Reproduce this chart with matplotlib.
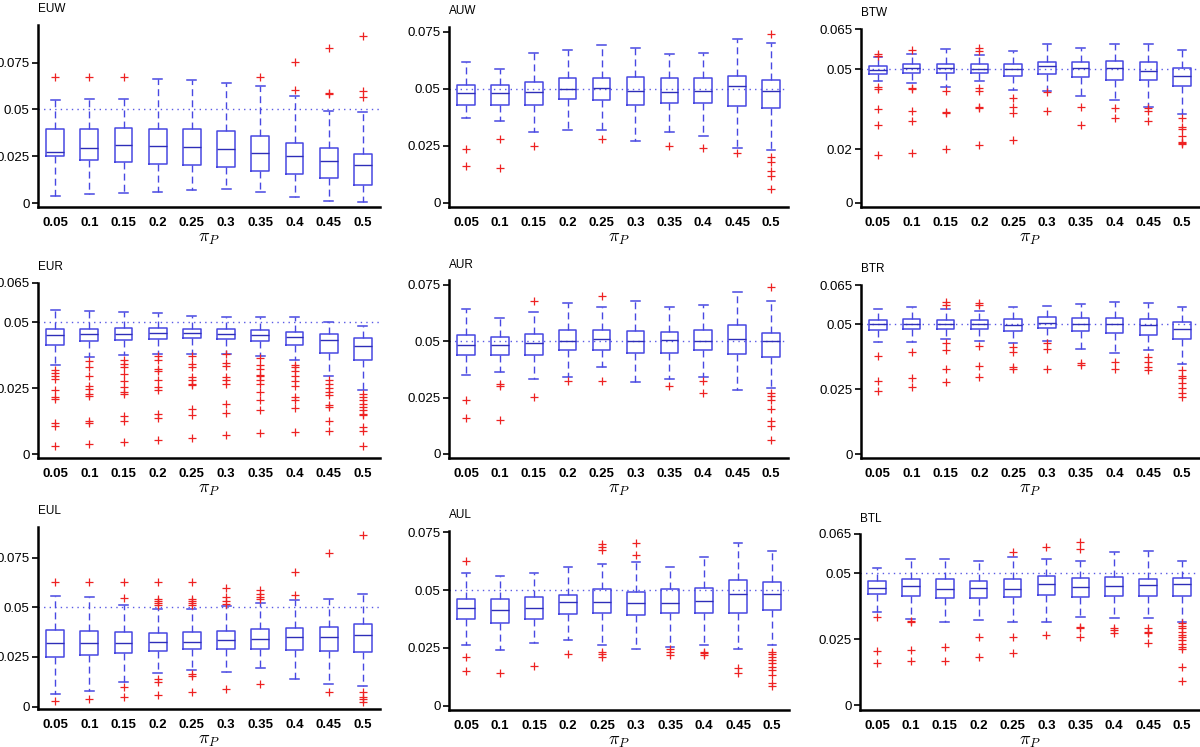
import matplotlib
matplotlib.use("Agg")
import matplotlib.pyplot as plt

plt.rcParams['font.family'] = ['Liberation Sans', 'DejaVu Sans']
plt.rcParams['mathtext.fontset'] = 'cm'

x_labels = ['0.05', '0.1', '0.15', '0.2', '0.25', '0.3', '0.35', '0.4', '0.45', '0.5']
titles = ['EUW', 'AUW', 'BTW', 'EUR', 'AUR', 'BTR', 'EUL', 'AUL', 'BTL']
ref_level = 0.05

# ---------------- EUW ----------------
EUW_lo = [0.0040, 0.0046, 0.0055, 0.0060, 0.0072, 0.0076, 0.0058, 0.0032, 0.0009, 0.0004]
EUW_q1 = [0.0252, 0.0229, 0.0218, 0.0211, 0.0202, 0.0192, 0.0173, 0.0155, 0.0134, 0.0099]
EUW_med = [0.0275, 0.0292, 0.0310, 0.0305, 0.0299, 0.0287, 0.0269, 0.0252, 0.0227, 0.0202]
EUW_q3 = [0.0398, 0.0398, 0.0400, 0.0396, 0.0393, 0.0386, 0.0359, 0.0322, 0.0292, 0.0261]
EUW_hi = [0.0549, 0.0555, 0.0555, 0.0665, 0.0655, 0.0643, 0.0623, 0.0572, 0.0493, 0.0484]
EUW_out = [[0.0673], [0.0673], [0.0673], [], [], [], [0.0673], [0.0752, 0.0604],
           [0.0826, 0.0586, 0.0583], [0.0894, 0.0600, 0.0567]]

# ---------------- AUW ----------------
AUW_lo = [0.0370, 0.0358, 0.0308, 0.0319, 0.0319, 0.0269, 0.0308, 0.0291, 0.0240, 0.0230]
AUW_q1 = [0.0428, 0.0428, 0.0428, 0.0453, 0.0450, 0.0428, 0.0439, 0.0436, 0.0424, 0.0414]
AUW_med = [0.0481, 0.0481, 0.0487, 0.0499, 0.0504, 0.0488, 0.0485, 0.0488, 0.0510, 0.0490]
AUW_q3 = [0.0518, 0.0518, 0.0528, 0.0548, 0.0548, 0.0553, 0.0548, 0.0548, 0.0557, 0.0538]
AUW_hi = [0.0617, 0.0588, 0.0658, 0.0668, 0.0690, 0.0680, 0.0651, 0.0658, 0.0719, 0.0699]
AUW_out = [[0.0237, 0.0161], [0.0281, 0.0152], [0.0250], [], [0.0281], [], [0.0250], [0.0240],
           [0.0216], [0.0740, 0.0202, 0.0180, 0.0140, 0.0118, 0.0058]]

# ---------------- BTW ----------------
BTW_lo = [0.0454, 0.0450, 0.0433, 0.0454, 0.0423, 0.0420, 0.0401, 0.0385, 0.0360, 0.0331]
BTW_q1 = [0.0483, 0.0486, 0.0485, 0.0485, 0.0475, 0.0483, 0.0470, 0.0460, 0.0459, 0.0436]
BTW_med = [0.0495, 0.0503, 0.0504, 0.0500, 0.0500, 0.0510, 0.0504, 0.0504, 0.0494, 0.0475]
BTW_q3 = [0.0510, 0.0519, 0.0520, 0.0519, 0.0519, 0.0526, 0.0526, 0.0529, 0.0526, 0.0506]
BTW_hi = [0.0545, 0.0556, 0.0574, 0.0551, 0.0566, 0.0594, 0.0579, 0.0594, 0.0594, 0.0570]
BTW_out = [[0.0558, 0.0550, 0.0433, 0.0425, 0.0351, 0.0291, 0.0179],
           [0.0573, 0.0429, 0.0425, 0.0345, 0.0308, 0.0186],
           [0.0420, 0.0341, 0.0338, 0.0201],
           [0.0579, 0.0569, 0.0429, 0.0420, 0.0360, 0.0353, 0.0215],
           [0.0391, 0.0360, 0.0338, 0.0235],
           [0.0416, 0.0344], [0.0360, 0.0291], [0.0356, 0.0316], [0.0356, 0.0345, 0.0306],
           [0.0319, 0.0283, 0.0275, 0.0251, 0.0229, 0.0225, 0.0220]]

# ---------------- EUR ----------------
EUR_lo = [0.0340, 0.0367, 0.0375, 0.0380, 0.0382, 0.0382, 0.0372, 0.0357, 0.0296, 0.0245]
EUR_q1 = [0.0414, 0.0428, 0.0433, 0.0438, 0.0440, 0.0438, 0.0431, 0.0413, 0.0385, 0.0357]
EUR_med = [0.0452, 0.0456, 0.0458, 0.0461, 0.0460, 0.0458, 0.0451, 0.0444, 0.0433, 0.0410]
EUR_q3 = [0.0474, 0.0477, 0.0478, 0.0478, 0.0477, 0.0474, 0.0472, 0.0463, 0.0455, 0.0440]
EUR_hi = [0.0548, 0.0544, 0.0539, 0.0535, 0.0526, 0.0519, 0.0519, 0.0519, 0.0500, 0.0488]
EUR_out = [[0.0319, 0.0308, 0.0296, 0.0287, 0.0245, 0.0217, 0.0208, 0.0119, 0.0105, 0.0032],
           [0.0353, 0.0329, 0.0296, 0.0257, 0.0249, 0.0227, 0.0220, 0.0125, 0.0117, 0.0038],
           [0.0359, 0.0344, 0.0329, 0.0306, 0.0278, 0.0255, 0.0236, 0.0227, 0.0144, 0.0125, 0.0045],
           [0.0372, 0.0357, 0.0322, 0.0316, 0.0280, 0.0255, 0.0245, 0.0153, 0.0138, 0.0054],
           [0.0372, 0.0344, 0.0331, 0.0293, 0.0283, 0.0268, 0.0261, 0.0172, 0.0149, 0.0061],
           [0.0380, 0.0347, 0.0334, 0.0291, 0.0280, 0.0268, 0.0189, 0.0155, 0.0074],
           [0.0366, 0.0338, 0.0325, 0.0300, 0.0296, 0.0280, 0.0265, 0.0236, 0.0204, 0.0166, 0.0080],
           [0.0338, 0.0331, 0.0316, 0.0296, 0.0278, 0.0257, 0.0217, 0.0206, 0.0175, 0.0083],
           [0.0280, 0.0268, 0.0252, 0.0236, 0.0223, 0.0185, 0.0178, 0.0127, 0.0087],
           [0.0227, 0.0217, 0.0206, 0.0189, 0.0178, 0.0168, 0.0153, 0.0147, 0.0102, 0.0089, 0.0032]]

# ---------------- AUR ----------------
AUR_lo = [0.0351, 0.0362, 0.0332, 0.0341, 0.0388, 0.0320, 0.0332, 0.0341, 0.0282, 0.0291]
AUR_q1 = [0.0440, 0.0440, 0.0440, 0.0462, 0.0462, 0.0450, 0.0450, 0.0462, 0.0444, 0.0430]
AUR_med = [0.0483, 0.0483, 0.0492, 0.0502, 0.0509, 0.0502, 0.0506, 0.0502, 0.0509, 0.0502]
AUR_q3 = [0.0526, 0.0521, 0.0532, 0.0551, 0.0551, 0.0546, 0.0542, 0.0551, 0.0571, 0.0536]
AUR_hi = [0.0642, 0.0602, 0.0632, 0.0672, 0.0650, 0.0679, 0.0651, 0.0661, 0.0720, 0.0679]
AUR_out = [[0.0241, 0.0159], [0.0312, 0.0300, 0.0152], [0.0681, 0.0251], [0.0322],
           [0.0703, 0.0322], [], [0.0300], [0.0322, 0.0270], [],
           [0.0741, 0.0270, 0.0258, 0.0241, 0.0201, 0.0145, 0.0123, 0.0061]]

# ---------------- BTR ----------------
BTR_lo = [0.0429, 0.0429, 0.0442, 0.0436, 0.0428, 0.0436, 0.0405, 0.0390, 0.0400, 0.0345]
BTR_q1 = [0.0477, 0.0481, 0.0481, 0.0481, 0.0474, 0.0483, 0.0473, 0.0464, 0.0458, 0.0441]
BTR_med = [0.0500, 0.0500, 0.0500, 0.0500, 0.0496, 0.0505, 0.0500, 0.0500, 0.0496, 0.0479]
BTR_q3 = [0.0515, 0.0519, 0.0517, 0.0514, 0.0518, 0.0526, 0.0522, 0.0522, 0.0518, 0.0509]
BTR_hi = [0.0559, 0.0567, 0.0556, 0.0549, 0.0567, 0.0571, 0.0576, 0.0583, 0.0582, 0.0564]
BTR_out = [[0.0379, 0.0281, 0.0244], [0.0391, 0.0294, 0.0259],
           [0.0583, 0.0573, 0.0426, 0.0400, 0.0327, 0.0278],
           [0.0579, 0.0573, 0.0415, 0.0338, 0.0297],
           [0.0413, 0.0391, 0.0336, 0.0326], [0.0426, 0.0403, 0.0327],
           [0.0351, 0.0342], [0.0355, 0.0329], [0.0374, 0.0355, 0.0336, 0.0323],
           [0.0323, 0.0300, 0.0291, 0.0274, 0.0253, 0.0236, 0.0221]]

# ---------------- EUL ----------------
EUL_lo = [0.0062, 0.0079, 0.0122, 0.0168, 0.0185, 0.0173, 0.0196, 0.0139, 0.0112, 0.0104]
EUL_q1 = [0.0248, 0.0258, 0.0268, 0.0282, 0.0290, 0.0292, 0.0289, 0.0285, 0.0282, 0.0277]
EUL_med = [0.0322, 0.0322, 0.0322, 0.0324, 0.0327, 0.0336, 0.0339, 0.0349, 0.0351, 0.0362]
EUL_q3 = [0.0386, 0.0381, 0.0374, 0.0369, 0.0374, 0.0383, 0.0391, 0.0394, 0.0403, 0.0416]
EUL_hi = [0.0559, 0.0554, 0.0512, 0.0490, 0.0490, 0.0507, 0.0520, 0.0537, 0.0542, 0.0565]
EUL_out = [[0.0629, 0.0030], [0.0626, 0.0037], [0.0626, 0.0549, 0.0101, 0.0047],
           [0.0629, 0.0542, 0.0532, 0.0520, 0.0512, 0.0138, 0.0126, 0.0059],
           [0.0629, 0.0542, 0.0532, 0.0520, 0.0512, 0.0164, 0.0154, 0.0072],
           [0.0596, 0.0554, 0.0534, 0.0517, 0.0089],
           [0.0587, 0.0567, 0.0554, 0.0542, 0.0114],
           [0.0676, 0.0562], [0.0772, 0.0076],
           [0.0864, 0.0076, 0.0050, 0.0039, 0.0025]]

# ---------------- AUL ----------------
AUL_lo = [0.0261, 0.0242, 0.0273, 0.0283, 0.0261, 0.0244, 0.0254, 0.0261, 0.0244, 0.0261]
AUL_q1 = [0.0374, 0.0359, 0.0374, 0.0397, 0.0402, 0.0391, 0.0402, 0.0402, 0.0402, 0.0414]
AUL_med = [0.0421, 0.0414, 0.0421, 0.0447, 0.0447, 0.0443, 0.0446, 0.0453, 0.0482, 0.0482]
AUL_q3 = [0.0462, 0.0462, 0.0472, 0.0480, 0.0503, 0.0490, 0.0503, 0.0511, 0.0542, 0.0534]
AUL_hi = [0.0576, 0.0561, 0.0573, 0.0601, 0.0613, 0.0623, 0.0601, 0.0642, 0.0702, 0.0671]
AUL_out = [[0.0625, 0.0212, 0.0151], [0.0143], [0.0172], [0.0222],
           [0.0698, 0.0688, 0.0674, 0.0234, 0.0224, 0.0212],
           [0.0705, 0.0652], [0.0244, 0.0232, 0.0219], [0.0234, 0.0226, 0.0219],
           [0.0162, 0.0140],
           [0.0234, 0.0224, 0.0212, 0.0198, 0.0183, 0.0169, 0.0154, 0.0133, 0.0097, 0.0085]]

# ---------------- BTL ----------------
BTL_lo = [0.0355, 0.0326, 0.0314, 0.0323, 0.0314, 0.0314, 0.0336, 0.0332, 0.0332, 0.0314]
BTL_q1 = [0.0421, 0.0416, 0.0408, 0.0408, 0.0409, 0.0418, 0.0412, 0.0413, 0.0413, 0.0416]
BTL_med = [0.0446, 0.0452, 0.0440, 0.0446, 0.0442, 0.0460, 0.0450, 0.0452, 0.0455, 0.0459]
BTL_q3 = [0.0471, 0.0478, 0.0478, 0.0471, 0.0478, 0.0489, 0.0484, 0.0485, 0.0480, 0.0483]
BTL_hi = [0.0522, 0.0554, 0.0555, 0.0546, 0.0561, 0.0556, 0.0549, 0.0580, 0.0584, 0.0549]
BTL_out = [[0.0333, 0.0205, 0.0158], [0.0321, 0.0314, 0.0209, 0.0166], [0.0222, 0.0166],
           [0.0260, 0.0184], [0.0583, 0.0260, 0.0196], [0.0602, 0.0265],
           [0.0618, 0.0592, 0.0298, 0.0291, 0.0260], [0.0294, 0.0285, 0.0275],
           [0.0294, 0.0279, 0.0272, 0.0237],
           [0.0310, 0.0300, 0.0291, 0.0279, 0.0266, 0.0257, 0.0247, 0.0232, 0.0222, 0.0213,
            0.0146, 0.0091]]

panels = {
    'EUW': (EUW_lo, EUW_q1, EUW_med, EUW_q3, EUW_hi, EUW_out),
    'AUW': (AUW_lo, AUW_q1, AUW_med, AUW_q3, AUW_hi, AUW_out),
    'BTW': (BTW_lo, BTW_q1, BTW_med, BTW_q3, BTW_hi, BTW_out),
    'EUR': (EUR_lo, EUR_q1, EUR_med, EUR_q3, EUR_hi, EUR_out),
    'AUR': (AUR_lo, AUR_q1, AUR_med, AUR_q3, AUR_hi, AUR_out),
    'BTR': (BTR_lo, BTR_q1, BTR_med, BTR_q3, BTR_hi, BTR_out),
    'EUL': (EUL_lo, EUL_q1, EUL_med, EUL_q3, EUL_hi, EUL_out),
    'AUL': (AUL_lo, AUL_q1, AUL_med, AUL_q3, AUL_hi, AUL_out),
    'BTL': (BTL_lo, BTL_q1, BTL_med, BTL_q3, BTL_hi, BTL_out),
}

# y ticks / limits per panel
yticks = {
    'EUW': [0, 0.025, 0.05, 0.075], 'AUW': [0, 0.025, 0.05, 0.075], 'BTW': [0, 0.02, 0.05, 0.065],
    'EUR': [0, 0.025, 0.05, 0.065], 'AUR': [0, 0.025, 0.05, 0.075], 'BTR': [0, 0.025, 0.05, 0.065],
    'EUL': [0, 0.025, 0.05, 0.075], 'AUL': [0, 0.025, 0.05, 0.075], 'BTL': [0, 0.025, 0.05, 0.065],
}
ylims = {
    'EUW': (-0.0021, 0.0951), 'AUW': (-0.0019, 0.0771), 'BTW': (-0.0015, 0.065),
    'EUR': (-0.0015, 0.065), 'AUR': (-0.0018, 0.0772), 'BTR': (-0.0015, 0.065),
    'EUL': (-0.0012, 0.0904), 'AUL': (-0.0019, 0.0756), 'BTL': (-0.0019, 0.065),
}
# axes boxes in pixels: left, top, right, bottom
boxes = {
    'EUW': (38, 25, 380, 207), 'AUW': (449, 27, 788, 207), 'BTW': (861, 29, 1199, 207),
    'EUR': (38, 283, 380, 458), 'AUR': (449, 280, 788, 458), 'BTR': (861, 285, 1199, 458),
    'EUL': (38, 527, 380, 709), 'AUL': (449, 531, 789, 710), 'BTL': (860, 534, 1199, 710),
}

W, H = 1200, 747
fig = plt.figure(figsize=(W / 100, H / 100), dpi=100)

BLUE = '#4848e2'
RED = '#ee2222'

def fmt(v):
    if v == 0:
        return '0'
    return ('%g' % v)

for name in titles:
    lo, q1, med, q3, hi, out = panels[name]
    l, t, r, b = boxes[name]
    ax = fig.add_axes([l / W, 1 - b / H, (r - l) / W, (b - t) / H])
    stats = []
    for i in range(len(x_labels)):
        stats.append({'whislo': lo[i], 'q1': q1[i], 'med': med[i], 'q3': q3[i],
                      'whishi': hi[i], 'fliers': out[i]})
    ax.axhline(ref_level, color='#5a5ae6', lw=1.0, ls=(0, (1, 3)), zorder=1)
    ax.bxp(stats, positions=range(1, len(x_labels) + 1), widths=0.52, capwidths=0.26,
           showfliers=True,
           boxprops=dict(color=BLUE, lw=1.1),
           whiskerprops=dict(color=BLUE, lw=1.0, ls=(0, (5, 3))),
           capprops=dict(color=BLUE, lw=1.1),
           medianprops=dict(color='#2e2eb8', lw=1.0),
           flierprops=dict(marker='+', markeredgecolor=RED, markersize=6,
                           markeredgewidth=0.9, linestyle='none'))
    ax.set_xlim(0.5, len(x_labels) + 0.5)
    ax.set_ylim(*ylims[name])
    ax.set_xticks(range(1, len(x_labels) + 1))
    ax.set_xticklabels(x_labels, fontweight='bold', fontsize=9.5)
    ax.set_yticks(yticks[name])
    ax.set_yticklabels([fmt(v) for v in yticks[name]], fontsize=9.5)
    ax.tick_params(axis='x', length=0, pad=7)
    ax.tick_params(axis='y', length=4, width=1.2, direction='out', pad=2)
    for s in ('top', 'right'):
        ax.spines[s].set_visible(False)
    for s in ('left', 'bottom'):
        ax.spines[s].set_linewidth(1.8)
    ax.set_title(name, loc='left', fontsize=8.5, pad=9)
    ax.set_xlabel(r'$\pi_P$', fontsize=13, labelpad=1)
    ax.patch.set_alpha(0)

fig.savefig('out.png', dpi=100)
